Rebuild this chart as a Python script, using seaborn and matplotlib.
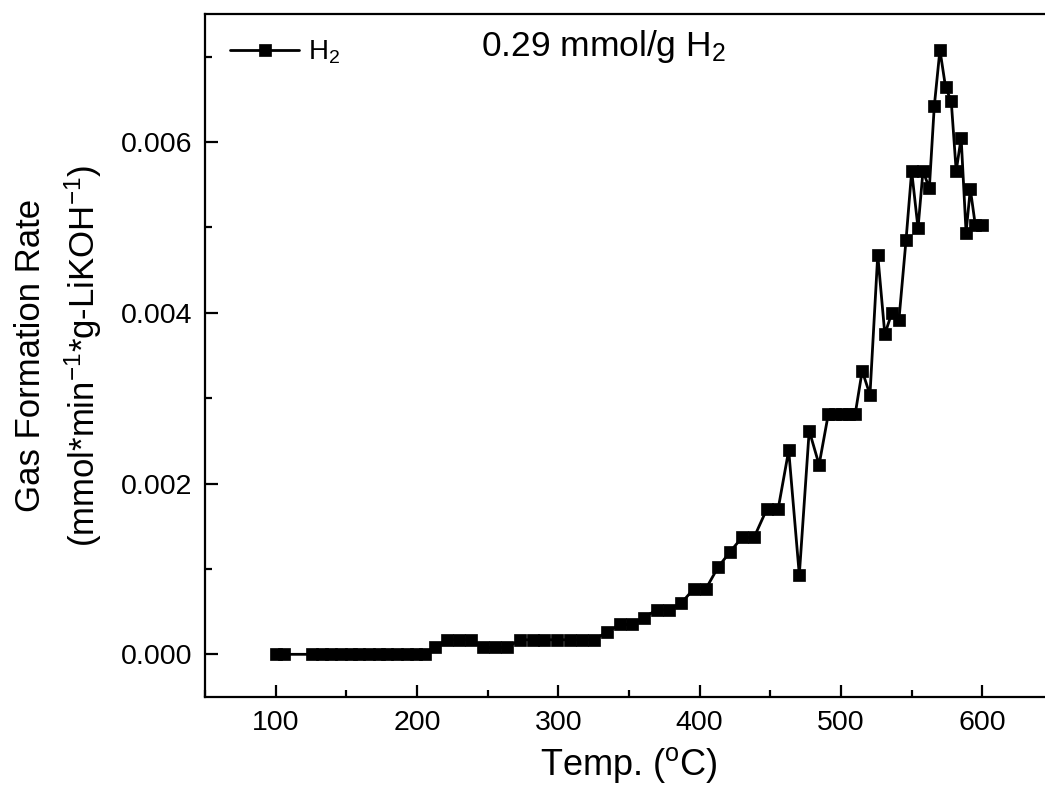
import matplotlib
matplotlib.use("Agg")
import matplotlib.pyplot as plt
from matplotlib.ticker import MultipleLocator, FormatStrFormatter
import seaborn as sns
import pandas as pd

temperature = [100, 106, 126, 133, 139, 146, 153, 159, 166, 173, 179, 186, 193, 199, 206,
               212.5, 221, 229.5, 238, 246.5, 255, 263.5,
               273, 282, 290, 299, 308, 317, 325, 334.5, 343.5, 352,
               360.5, 369.5, 378, 387, 396, 404.5, 413, 421.5, 430, 438.5,
               447.5, 455.5, 463, 470.5, 477.5, 484.5, 491, 496, 501, 506, 510,
               515, 520.5, 526, 531, 536, 541, 546, 550, 554.5, 558, 562.5,
               566, 570, 574, 578, 581.5, 585, 588.5, 591.5, 595, 600]
rate = [0, 0, 0, 0, 0, 0, 0, 0, 0, 0, 0, 0, 0, 0, 0,
        0.00008, 0.00017, 0.00017, 0.00017, 0.00008, 0.00008, 0.00008,
        0.00017, 0.00017, 0.00017, 0.00017, 0.00017, 0.00017, 0.00017, 0.00026, 0.00035, 0.00035,
        0.00043, 0.00052, 0.00052, 0.0006, 0.00077, 0.00077, 0.00102, 0.0012, 0.00137, 0.00137,
        0.0017, 0.0017, 0.00239, 0.00093, 0.00262, 0.00222, 0.00281, 0.00281, 0.00281, 0.00281, 0.00281,
        0.00332, 0.00304, 0.00468, 0.00375, 0.004, 0.00392, 0.00485, 0.00566, 0.00499, 0.00566, 0.00546,
        0.00642, 0.00708, 0.00664, 0.00648, 0.00566, 0.00605, 0.00494, 0.00545, 0.00503, 0.00503]
series_label = "H$_2$"
annotation = "0.29 mmol/g H$_2$"
x_label = "Temp. ($^\\mathregular{o}$C)"
y_label = "Gas Formation Rate\n(mmol*min$^{-1}$*g-LiKOH$^{-1}$)"

df = pd.DataFrame({"Temp": temperature, "Rate": rate, "Gas": series_label})

sns.set_style("ticks")
plt.rcParams["font.family"] = ["Liberation Sans", "DejaVu Sans"]
plt.rcParams["mathtext.fontset"] = "custom"
plt.rcParams["mathtext.rm"] = "Liberation Sans"
plt.rcParams["mathtext.it"] = "Liberation Sans:italic"
plt.rcParams["mathtext.default"] = "regular"
plt.rcParams["text.color"] = "black"
plt.rcParams["axes.labelcolor"] = "black"

fig = plt.figure(figsize=(10.45, 7.95), dpi=100)
ax = fig.add_axes([205/1045, 1 - 697/795, (1053 - 205)/1045, (697 - 14)/795])

sns.lineplot(data=df, x="Temp", y="Rate", hue="Gas", palette=["black"], marker="s",
             markersize=8.5, markeredgecolor="black", markeredgewidth=0.5,
             linewidth=2.0, ax=ax)

ax.set_xlim(50, 650)
ax.set_ylim(-0.0005, 0.0075)
ax.xaxis.set_major_locator(MultipleLocator(100))
ax.xaxis.set_minor_locator(MultipleLocator(50))
ax.yaxis.set_major_locator(MultipleLocator(0.002))
ax.yaxis.set_minor_locator(MultipleLocator(0.001))
ax.yaxis.set_major_formatter(FormatStrFormatter("%.3f"))

for s in ax.spines.values():
    s.set_linewidth(1.6)
    s.set_color("black")
ax.tick_params(which="both", direction="in", width=1.6, labelsize=20.5, colors="black")
ax.tick_params(which="major", length=9, pad=9)
ax.tick_params(which="minor", length=5)

ax.set_xlabel(x_label, fontsize=26, labelpad=7)
ax.set_ylabel(y_label, fontsize=25, labelpad=12, linespacing=1.5)

leg = ax.legend(loc="upper left", frameon=False, prop={"size": 20}, handlelength=2.5,
                handletextpad=0.3, borderaxespad=0.5, bbox_to_anchor=(0.0, 1.0))

ax.text(0.326, 0.952, annotation, transform=ax.transAxes, fontsize=25.5, va="center", ha="left")

fig.savefig("out.png", dpi=100)
